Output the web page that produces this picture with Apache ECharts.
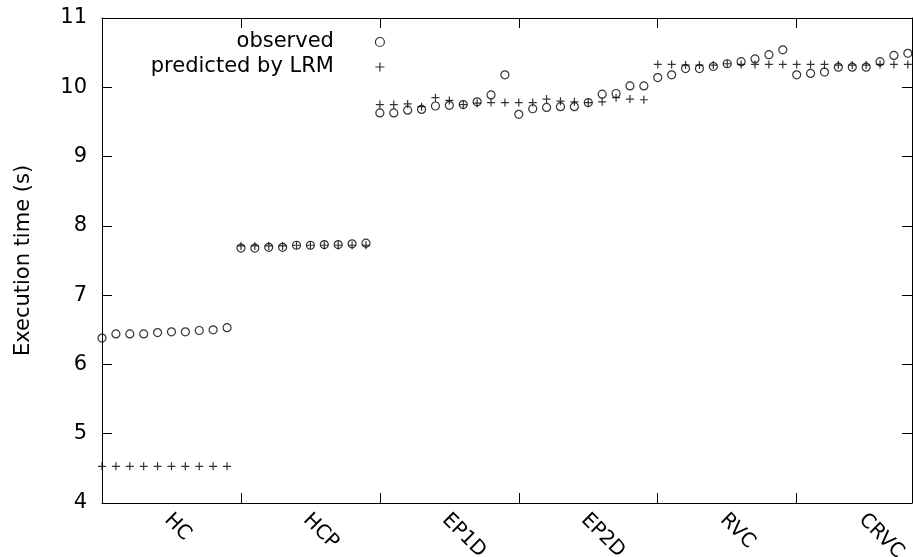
<!DOCTYPE html>
<html>
<head>
<meta charset="utf-8">
<style>html,body{margin:0;padding:0;background:#fff}#c{width:913px;height:557px}</style>
<script src="https://cdn.jsdelivr.net/npm/echarts@6/dist/echarts.min.js"></script>
</head>
<body>
<div id="c"></div>
<script>
// ---- data ----
const categories = ['HC', 'HCP', 'EP1D', 'EP2D', 'RVC', 'CRVC'];
const pointsPerGroup = 10;
const observed = [
  // HC
  6.38, 6.44, 6.44, 6.44, 6.46, 6.47, 6.47, 6.49, 6.50, 6.53,
  // HCP
  7.68, 7.68, 7.69, 7.69, 7.72, 7.72, 7.73, 7.73, 7.74, 7.75,
  // EP1D
  9.63, 9.63, 9.67, 9.68, 9.73, 9.74, 9.75, 9.79, 9.89, 10.18,
  // EP2D
  9.61, 9.69, 9.71, 9.72, 9.72, 9.78, 9.90, 9.91, 10.02, 10.02,
  // RVC
  10.14, 10.18, 10.27, 10.27, 10.30, 10.34, 10.37, 10.41, 10.47, 10.54,
  // CRVC
  10.18, 10.20, 10.22, 10.29, 10.29, 10.29, 10.37, 10.46, 10.49
];
const predicted = [
  // HC
  4.53, 4.53, 4.53, 4.53, 4.53, 4.53, 4.53, 4.53, 4.53, 4.53,
  // HCP
  7.71, 7.71, 7.71, 7.71, 7.72, 7.72, 7.72, 7.72, 7.72, 7.72,
  // EP1D
  9.75, 9.75, 9.76, 9.72, 9.85, 9.81, 9.75, 9.77, 9.78, 9.78,
  // EP2D
  9.78, 9.78, 9.83, 9.80, 9.79, 9.78, 9.79, 9.85, 9.83, 9.82,
  // RVC
  10.33, 10.33, 10.32, 10.32, 10.32, 10.34, 10.33, 10.33, 10.33, 10.33,
  // CRVC
  10.33, 10.33, 10.33, 10.32, 10.32, 10.32, 10.33, 10.33, 10.33
];
const yMin = 4, yMax = 11, yStep = 1;
const seriesNames = ['observed', 'predicted by LRM'];

// ---- chart ----
const FONT = 'DejaVu Sans';
const plusPath = 'path://M0,4.5L9,4.5M4.5,0L4.5,9';
const groupTicks = categories.slice(1).map((c, k) => (k + 1) * pointsPerGroup);
const groupCenters = categories.map((c, k) => k * pointsPerGroup + (pointsPerGroup - 1) / 2);
const xMax = 58.3;

const axisLine = { show: true, onZero: false, lineStyle: { color: '#000', width: 1 } };

const chart = echarts.init(document.getElementById('c'), null, { renderer: 'canvas' });
chart.setOption({
  animation: false,
  backgroundColor: '#fff',
  grid: { left: 102, right: 1, top: 18, bottom: 54, outerBoundsMode: 'none', containLabel: false },
  legend: {
    orient: 'vertical',
    align: 'right',
    right: 528,
    top: 31.5,
    padding: 0,
    itemGap: 4,
    itemWidth: 82,
    itemHeight: 9,
    selectedMode: false,
    itemStyle: { borderWidth: 1.2, borderColor: '#000', color: 'rgba(0,0,0,0)' },
    textStyle: { fontFamily: FONT, fontSize: 21, color: '#000', lineHeight: 21 },
    data: [
      { name: seriesNames[0], icon: 'circle' },
      { name: seriesNames[1], icon: plusPath }
    ]
  },
  xAxis: [
    {
      type: 'value', position: 'bottom', min: 0, max: xMax,
      axisLine: axisLine,
      splitLine: { show: false },
      axisTick: { show: true, inside: true, length: 10, customValues: groupTicks, lineStyle: { color: '#000', width: 1 } },
      axisLabel: {
        show: true, customValues: groupCenters, rotate: -45, margin: 11,
        padding: [0, 0, 0, 4],
        fontFamily: FONT, fontSize: 20, color: '#000',
        formatter: v => categories[Math.round((v - (pointsPerGroup - 1) / 2) / pointsPerGroup)] || ''
      }
    },
    {
      type: 'value', position: 'top', min: 0, max: xMax,
      axisLine: axisLine,
      splitLine: { show: false },
      axisTick: { show: true, inside: true, length: 10, customValues: groupTicks, lineStyle: { color: '#000', width: 1 } },
      axisLabel: { show: false }
    }
  ],
  yAxis: [
    {
      type: 'value', position: 'left', min: yMin, max: yMax, interval: yStep,
      axisLine: axisLine,
      splitLine: { show: false },
      axisTick: { show: true, inside: true, length: 10, lineStyle: { color: '#000', width: 1 } },
      axisLabel: { margin: 15, fontFamily: FONT, fontSize: 21, color: '#000' },
      name: 'Execution time (s)',
      nameLocation: 'middle',
      nameGap: 68,
      nameRotate: 90,
      nameTextStyle: { fontFamily: FONT, fontSize: 21, color: '#000' }
    },
    {
      type: 'value', position: 'right', min: yMin, max: yMax, interval: yStep,
      axisLine: axisLine,
      splitLine: { show: false },
      axisTick: { show: true, inside: true, length: 10, lineStyle: { color: '#000', width: 1 } },
      axisLabel: { show: false }
    }
  ],
  series: [
    {
      name: seriesNames[0], type: 'scatter', xAxisIndex: 0, yAxisIndex: 0,
      symbol: 'circle', symbolSize: 8, clip: false,
      itemStyle: { color: 'rgba(0,0,0,0)', borderColor: '#000', borderWidth: 1.2 },
      emphasis: { disabled: true },
      data: observed.map((v, i) => [i, v])
    },
    {
      name: seriesNames[1], type: 'scatter', xAxisIndex: 0, yAxisIndex: 0,
      symbol: plusPath, symbolSize: 8, clip: false,
      itemStyle: { color: 'rgba(0,0,0,0)', borderColor: '#000', borderWidth: 1.2 },
      emphasis: { disabled: true },
      data: predicted.map((v, i) => [i, v])
    }
  ]
});
</script>
</body>
</html>
